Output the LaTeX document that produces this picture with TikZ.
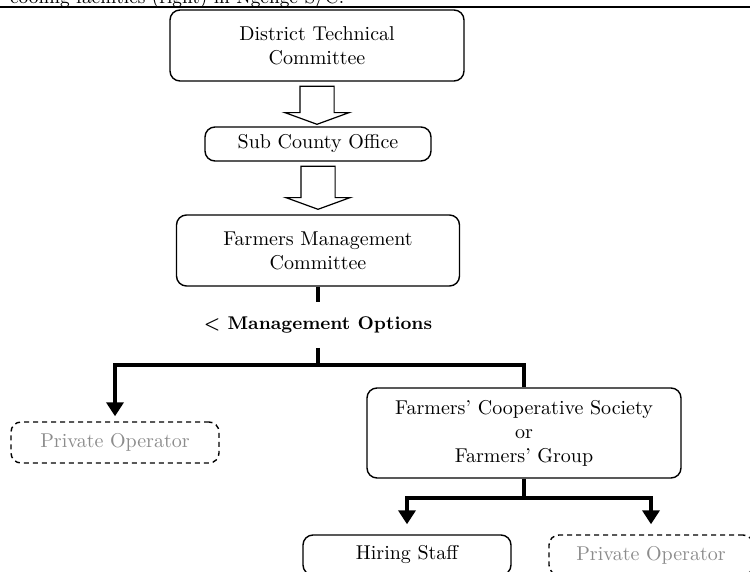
\documentclass[tikz,border=0pt]{standalone}
\usetikzlibrary{arrows.meta}
\usetikzlibrary{shapes.arrows}
\usetikzlibrary{calc}

\tikzset{
    box/.style={draw, rounded corners=5pt, line width=0.7pt, align=center, inner sep=0pt},
    dashbox/.style={box, dashed, dash pattern=on 2.5pt off 2pt, text=black!45},
    branch/.style={line width=2pt},
    branchtip/.style={branch, -{Triangle[width=8.5pt,length=7pt]}},
    blockarrow/.style={draw, single arrow, rotate=-90, anchor=tail, line width=0.6pt, inner xsep=0pt, inner ysep=8.25pt,
        minimum width=31.5pt, single arrow head extend=7.5pt, single arrow tip angle=140}
}

\begin{document}
\begin{tikzpicture}[x=0.5pt, y=-0.5pt]
                \clip (0,0) rectangle (750,572);

                \node[anchor=base west, font=\fontsize{9.4}{11}\selectfont] (caption) at (3,3.5) {cooling facilities (right) in Ngenge S/C.};
                \draw[line width=1pt] (0,7.5) -- (750,7.5);

                \node[box, minimum width=147pt, minimum height=35.5pt] (dtc) at (317,45.5) {District Technical\\Committee};
                \node[box, minimum width=113pt, minimum height=17pt] (sco) at (318,144) {Sub County Office};
                \node[box, minimum width=141.5pt, minimum height=35.5pt] (fmc) at (318,250.5) {Farmers Management\\Committee};

                \node[blockarrow, minimum height=19pt] (arrA) at ([yshift=-2pt]dtc.south) {};
                \node[blockarrow, minimum height=21.5pt] (arrB) at ([yshift=-2pt]sco.south) {};

                \node[font=\bfseries\fontsize{9.2}{11}\selectfont, minimum height=22.5pt, inner sep=0pt] (opts) at (318,325) {\textless{} Management Options};
                \draw[branch] (fmc.south) -- (opts.north);

                \node[dashbox, minimum width=104pt, minimum height=20.5pt] (privL) at (115,442.5) {Private Operator};
                \node[box, minimum width=157pt, minimum height=45pt] (fcs) at (524,433) {Farmers' Cooperative Society\\or\\Farmers' Group};

                \coordinate (split) at (318,365);
                \draw[branch] (opts.south) -- (split);
                \draw[branchtip, shorten >=2.5pt] (split) -| (privL.north);
                \draw[branch] (split) -| (fcs.north);

                \node[box, minimum width=104pt, minimum height=20pt] (hire) at (407,555) {Hiring Staff};
                \node[dashbox, minimum width=102pt, minimum height=20pt] (privR) at (651,555) {Private Operator};

                \coordinate (split2) at (524,498);
                \draw[branch] (fcs.south) -- (split2);
                \draw[branchtip, shorten >=5pt] (split2) -| (hire.north);
                \draw[branchtip, shorten >=5pt] (split2) -| (privR.north);
\end{tikzpicture}
\end{document}
